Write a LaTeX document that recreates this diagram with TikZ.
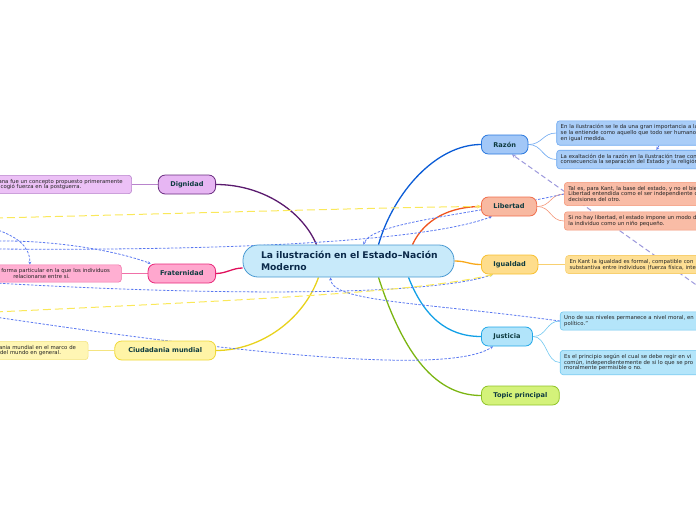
\documentclass[tikz,border=0pt]{standalone}
\usepackage{fontspec}
\setmainfont{DejaVu Sans}
\usetikzlibrary{arrows.meta, positioning, calc}
\pgfdeclarelayer{background}
\pgfsetlayers{background,main}
\definecolor{centrefill}{HTML}{C8EAFA}
\definecolor{centreline}{HTML}{4A9AD2}
\definecolor{centretxt}{HTML}{0B2A4A}
\definecolor{topictxt}{HTML}{0E3B40}
\definecolor{subtxt}{HTML}{222222}
\definecolor{razonfill}{HTML}{A2C7F7}
\definecolor{razonline}{HTML}{2A78DE}
\definecolor{razonsub}{HTML}{A9CDF8}
\definecolor{razonsubline}{HTML}{6AA6F0}
\definecolor{razonbranch}{HTML}{0A5CD6}
\definecolor{libfill}{HTML}{F8B9A1}
\definecolor{libline}{HTML}{F06E4C}
\definecolor{libsub}{HTML}{F9BCA6}
\definecolor{libsubline}{HTML}{F49678}
\definecolor{libbranch}{HTML}{F0541E}
\definecolor{igfill}{HTML}{FEDD8C}
\definecolor{igline}{HTML}{F8C030}
\definecolor{igsub}{HTML}{FEDF94}
\definecolor{igsubline}{HTML}{F8D070}
\definecolor{igbranch}{HTML}{F8A81A}
\definecolor{jusfill}{HTML}{B1E4FA}
\definecolor{jusline}{HTML}{22A8E8}
\definecolor{jussub}{HTML}{B4E5FA}
\definecolor{jussubline}{HTML}{72C8F0}
\definecolor{jusbranch}{HTML}{12A0E6}
\definecolor{tpfill}{HTML}{D4F27A}
\definecolor{tpline}{HTML}{90C428}
\definecolor{tpbranch}{HTML}{7BB512}
\definecolor{digfill}{HTML}{E7B6F3}
\definecolor{digline}{HTML}{6A2C80}
\definecolor{digsub}{HTML}{ECC1F6}
\definecolor{digsubline}{HTML}{B884CC}
\definecolor{digbranch}{HTML}{5A1A6E}
\definecolor{frafill}{HTML}{FFA7CE}
\definecolor{fraline}{HTML}{E8287A}
\definecolor{frasub}{HTML}{FFAFD2}
\definecolor{frasubline}{HTML}{F070A8}
\definecolor{frabranch}{HTML}{E0105C}
\definecolor{ciufill}{HTML}{FFF4A6}
\definecolor{ciuline}{HTML}{F0D838}
\definecolor{ciusub}{HTML}{FFF6B4}
\definecolor{ciusubline}{HTML}{F4E480}
\definecolor{ciubranch}{HTML}{E8D21C}
\definecolor{relblue}{HTML}{5A78F0}
\definecolor{relyellow}{HTML}{FAE85A}
\definecolor{relpurple}{HTML}{9C98DC}
\tikzset{
  centre/.style   = {rectangle, rounded corners=15pt, draw=centreline,
                     fill=centrefill, line width=0.8pt, minimum width=211pt,
                     minimum height=32pt, text width=175pt, inner xsep=18pt,
                     align=left, text=centretxt,
                     font=\bfseries\fontsize{9.2}{11.5}\selectfont},
  topic/.style    = {rectangle, rounded corners=7pt, draw, line width=0.8pt,
                     minimum height=19pt, inner xsep=12pt, inner ysep=2pt,
                     text=topictxt, font=\bfseries\fontsize{6.6}{7.5}\selectfont},
  subtopic/.style = {rectangle, rounded corners=3pt, draw, line width=0.6pt,
                     inner xsep=4pt, inner ysep=3.7pt, align=left, text=subtxt,
                     font=\fontsize{5.35}{5.8}\selectfont},
  branch/.style   = {line width=1.3pt},
  twig/.style     = {line width=0.6pt},
  relb/.style     = {relblue, line width=0.8pt, dash pattern=on 2.5pt off 1.5pt,
                     -{Stealth[length=3pt,width=3pt]}},
  rely/.style     = {relyellow, line width=1pt, dash pattern=on 8pt off 4pt,
                     -{Stealth[length=4pt,width=4pt]}},
  relp/.style     = {relpurple, line width=1pt, dash pattern=on 5pt off 3pt,
                     -{Stealth[length=4pt,width=4pt]}},
}
\begin{document}
\begin{tikzpicture}[x=1pt, y=-1pt]
  \useasboundingbox (0,0) rectangle (696,520);
  \clip (0,0) rectangle (696,520);

  % central idea and main topics
  \node[centre] (centro) at (348.5,261) {\mbox{La ilustración en el Estado–Nación}\\Moderno};
  \node[topic, fill=razonfill, draw=razonline, anchor=west] (razon) at (481,144.5) {Razón};
  \node[topic, fill=libfill, draw=libline, anchor=west] (libertad) at (481,206.5) {Libertad};
  \node[topic, fill=igfill, draw=igline, anchor=west] (igualdad) at (481,264.5) {Igualdad};
  \node[topic, fill=jusfill, draw=jusline, anchor=west] (justicia) at (481,336.5) {Justicia};
  \node[topic, fill=tpfill, draw=tpline, anchor=west] (principal) at (481,395.5) {Topic principal};
  \node[topic, fill=digfill, draw=digline, anchor=east] (dignidad) at (216,184.5) {Dignidad};
  \node[topic, fill=frafill, draw=fraline, anchor=east] (fraternidad) at (216,273.5) {Fraternidad};
  \node[topic, fill=ciufill, draw=ciuline, anchor=east, inner xsep=13.5pt] (ciudadania) at (216,350.5) {Ciudadania mundial};

  % subtopics
  \node[subtopic, fill=razonsub, draw=razonsubline, text width=170pt,
        right=28pt of razon, yshift=11.5pt] (razon1)
    {En la ilustración se le da una gran importancia a la\\
     se la entiende como aquello que todo ser humano\\en igual medida.};
  \node[subtopic, fill=razonsub, draw=razonsubline, text width=170pt,
        right=28pt of razon, yshift=-15pt] (razon2)
    {La exaltación de la razón en la ilustración trae con\\
     consecuencia la separación del Estado y la religión};
  \node[subtopic, fill=libsub, draw=libsubline, text width=170pt,
        right=27pt of libertad, yshift=12.5pt] (libertad1)
    {Tal es, para Kant, la base del estado, y no el bien\\
     Libertad entendida como el ser independiente de\\decisiones del otro.};
  \node[subtopic, fill=libsub, draw=libsubline, text width=170pt,
        right=27pt of libertad, yshift=-14.5pt] (libertad2)
    {Si no hay libertad, el estado impone un modo de\\
     la individuo como un niño pequeño.};
  \node[subtopic, fill=igsub, draw=igsubline, text width=170pt,
        right=27pt of igualdad] (igualdad1)
    {En Kant la igualdad es formal, compatible con\\
     substantiva entre individuos (fuerza física, inte};
  \node[subtopic, fill=jussub, draw=jussubline, text width=170pt,
        right=27pt of justicia, yshift=15.5pt] (justicia1)
    {Uno de sus niveles permanece a nivel moral, en\\político.''};
  \node[subtopic, fill=jussub, draw=jussubline, text width=170pt,
        right=27pt of justicia, yshift=-26pt] (justicia2)
    {Es el principio según el cual se debe regir en vi\\
     común, independientemente de si lo que se pro\\
     moralmente permisible o no.};
  \node[subtopic, fill=digsub, draw=digsubline, text width=129pt,
        left=26pt of dignidad] (dignidad1)
    {\mbox{ana fue un concepto propuesto primeramente}\\
     \hspace{2pt}cogió fuerza en la postguerra.};
  \node[subtopic, fill=frasub, draw=frasubline, text width=119pt,
        left=26pt of fraternidad] (fraternidad1)
    {\mbox{\hspace{3pt}forma particular en la que los individuos}\\
     \hspace{15pt}relacionarse entre sí.};
  \node[subtopic, fill=ciusub, draw=ciusubline, text width=87pt,
        left=26pt of ciudadania] (ciudadania1)
    {\hspace{2pt}ania mundial en el marco de\\\hspace{3pt}del mundo en general.};

  % loose ends of the relations
  \coordinate (ya) at (-5,218);
  \coordinate (yb) at (-5,312);
  \coordinate (ba) at (-5,229);
  \coordinate (bb) at (-5,241);
  \coordinate (bc) at (-5,249);
  \coordinate (bd) at (-5,283);
  \coordinate (be) at (-5,317);
  \coordinate (pa) at (702,289);
  \coordinate (pb) at (663,139);

  \begin{pgfonlayer}{background}
    \clip (0,0) rectangle (696,520);
    % branches
    \draw[branch, digbranch] ([xshift=-32pt]centro.north) .. controls +(-15,-35) and +(45,0) .. (dignidad.east);
    \draw[branch, frabranch] ([yshift=-7pt]centro.west) .. controls +(-10,0) and +(10,0) .. (fraternidad.east);
    \draw[branch, ciubranch] ([xshift=-30pt]centro.south) .. controls +(-15,42) and +(45,0) .. (ciudadania.east);
    \draw[branch, razonbranch] ([xshift=30pt]centro.north) .. controls +(15,-52) and +(-45,0) .. (razon.west);
    \draw[branch, libbranch] ([xshift=64pt]centro.north) .. controls +(12,-26) and +(-30,0) .. (libertad.west);
    \draw[branch, igbranch] (centro.east) .. controls +(12,0) and +(-12,0) .. (igualdad.west);
    \draw[branch, jusbranch] ([xshift=60pt]centro.south) .. controls +(15,38) and +(-35,0) .. (justicia.west);
    \draw[branch, tpbranch] ([xshift=30pt]centro.south) .. controls +(22,68) and +(-50,0) .. (principal.west);

    % twigs to subtopics
    \draw[twig, razonsubline] (razon.east) .. controls +(14,0) and +(-14,0) .. (razon1.west);
    \draw[twig, razonsubline] (razon.east) .. controls +(14,0) and +(-14,0) .. (razon2.west);
    \draw[twig, libsubline] (libertad.east) .. controls +(14,0) and +(-14,0) .. (libertad1.west);
    \draw[twig, libsubline] (libertad.east) .. controls +(14,0) and +(-14,0) .. (libertad2.west);
    \draw[twig, igsubline] (igualdad.east) -- (igualdad1.west);
    \draw[twig, jussubline] (justicia.east) .. controls +(14,0) and +(-14,0) .. (justicia1.west);
    \draw[twig, jussubline] (justicia.east) .. controls +(14,0) and +(-14,0) .. (justicia2.west);
    \draw[twig, digsubline] (dignidad.west) -- (dignidad1.east);
    \draw[twig, frasubline] (fraternidad.west) -- (fraternidad1.east);
    \draw[twig, ciusubline] (ciudadania.west) -- (ciudadania1.east);

    % relations
    \draw[rely] (ya) .. controls (200,213) and (400,207) .. (libertad.west);
    \draw[relb] (ba) .. controls (15,236) and (30,245) .. ([xshift=-28pt]fraternidad1.north);
    \draw[relb] (bb) .. controls (60,240) and (120,252) .. ([xshift=3pt]fraternidad.north west);
    \draw[relb] (bc) .. controls (250,251) and (430,240) .. ([xshift=11pt]libertad.south west);
    \draw[relb] (libertad1.west) .. controls (470,215) and (372,222) .. ([xshift=15pt]centro.north);
    \draw[relb] (bd) .. controls (220,296) and (430,296) .. ([xshift=12pt]igualdad.south west);
    \draw[rely] (yb) .. controls (250,300) and (420,292) .. ([xshift=12pt]igualdad.south west);
    \draw[relb] (justicia1.west) .. controls (420,302) and (332,302) .. ([xshift=-18pt]centro.south);
    \draw[relb] (be) .. controls (250,355) and (450,375) .. ([xshift=12pt]justicia.south west);
    \draw[relp] (pa) -- ([xshift=31pt]razon.south west);
    \draw[relb] (pb) -- ([xshift=100pt]razon2.north west);
  \end{pgfonlayer}
\end{tikzpicture}
\end{document}
